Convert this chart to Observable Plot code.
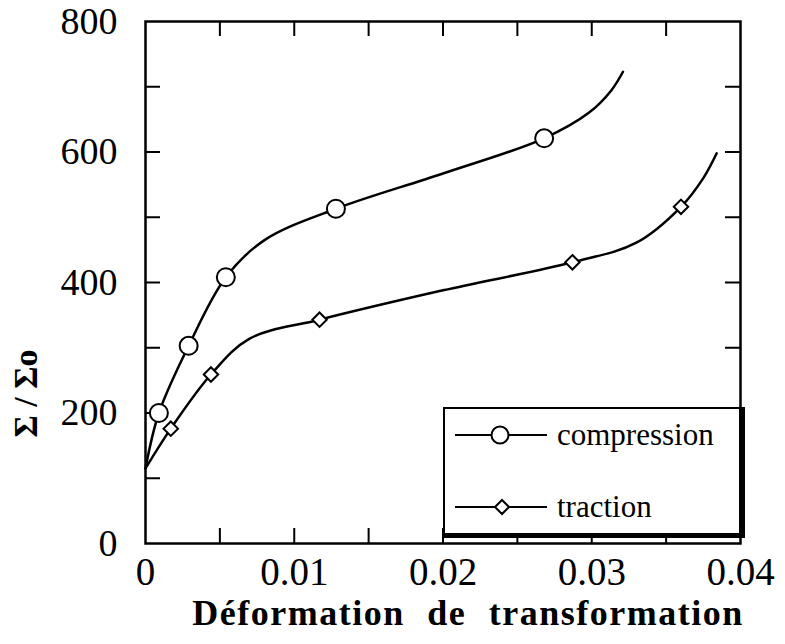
<!DOCTYPE html>
<html>
<head>
<meta charset="utf-8">
<script src="https://cdn.jsdelivr.net/npm/d3@7"></script>
<script src="https://cdn.jsdelivr.net/npm/@observablehq/plot@0.6"></script>
<style>
  body { margin: 0; background: #fff; }
  #wrap { position: relative; width: 785px; height: 644px; font-family: "Liberation Serif", "DejaVu Serif", serif; }
  #legend { position: absolute; left: 443px; top: 407px; width: 302px; height: 131px; background: #fff;
    border-top: 2px solid #000; border-left: 2px solid #000; border-right: 6px solid #000; border-bottom: 5px solid #000; box-sizing: border-box; }
  .row { position: absolute; left: 0; height: 30px; display: flex; align-items: center; white-space: nowrap; }
  .row span { font-size: 31px; margin-left: 10px; }
</style>
</head>
<body>
<div id="wrap"></div>
<script>
// Compression curve (smooth line) and its markers
const compX = [0, 0.0009, 0.0029, 0.0054, 0.008, 0.0128, 0.02, 0.0268, 0.0298, 0.0313, 0.0321];
const compY = [115, 200, 303, 408, 465, 513, 567, 621, 660, 694, 723];
const compMarkX = [0.0009, 0.0029, 0.0054, 0.0128, 0.0268];
const compMarkY = [200, 303, 408, 513, 621];
// Traction curve and its markers
const tracX = [0, 0.0017, 0.0044, 0.007, 0.0117, 0.02, 0.0287, 0.033, 0.036, 0.0375, 0.0384];
const tracY = [115, 176, 259, 314, 343, 388, 431, 461, 516, 560, 598];
const tracMarkX = [0.0017, 0.0044, 0.0117, 0.0287, 0.036];
const tracMarkY = [176, 259, 343, 431, 516];
// Axes
const xTickLabels = [0, 0.01, 0.02, 0.03, 0.04];
const yTickLabels = [0, 200, 400, 600, 800];
const xMinorTicks = [0.005, 0.01, 0.015, 0.02, 0.025, 0.03, 0.035];
const yMinorTicks = [100, 200, 300, 400, 500, 600, 700];
const xTitle = "Déformation de transformation";
const yTitle = "Σ / Σo";
const seriesNames = ["compression", "traction"];

const comp = compX.map((x, i) => ({x, y: compY[i]}));
const trac = tracX.map((x, i) => ({x, y: tracY[i]}));
const compM = compMarkX.map((x, i) => ({x, y: compMarkY[i]}));
const tracM = tracMarkX.map((x, i) => ({x, y: tracMarkY[i]}));

const font = "Liberation Serif";
const chart = Plot.plot({
  width: 785, height: 644,
  marginLeft: 145, marginRight: 45, marginTop: 21, marginBottom: 101,
  style: {fontFamily: font, background: "#fff", color: "#000"},
  x: {domain: [0, 0.04]},
  y: {domain: [0, 800]},
  marks: [
    Plot.frame({stroke: "#000", strokeWidth: 2.5}),
    Plot.tickX(xMinorTicks, {x: d => d, insetTop: 507, strokeWidth: 2}),
    Plot.tickX(xMinorTicks, {x: d => d, insetBottom: 507, strokeWidth: 2}),
    Plot.tickY(yMinorTicks, {y: d => d, insetRight: 580, strokeWidth: 2}),
    Plot.tickY(yMinorTicks, {y: d => d, insetLeft: 580, strokeWidth: 2}),
    Plot.axisX({ticks: xTickLabels, tickSize: 0, tickPadding: 14, fontSize: 39, label: null, tickFormat: d => String(d)}),
    Plot.axisY({ticks: yTickLabels, tickSize: 0, tickPadding: 28, fontSize: 38, label: null, tickFormat: d => String(d)}),
    Plot.line(comp, {x: "x", y: "y", curve: "catmull-rom", stroke: "#000", strokeWidth: 2.5}),
    Plot.line(trac, {x: "x", y: "y", curve: "catmull-rom", stroke: "#000", strokeWidth: 2.5}),
    Plot.dot(compM, {x: "x", y: "y", r: 9, fill: "#fff", stroke: "#000", strokeWidth: 2}),
    Plot.dot(tracM, {x: "x", y: "y", symbol: "diamond2", r: 6.5, fill: "#fff", stroke: "#000", strokeWidth: 2}),
    Plot.text([xTitle], {frameAnchor: "bottom", dx: 25, dy: 70, text: d => d, fontSize: 36, fontWeight: "bold", lineAnchor: "middle", fill: "#000"}),
    Plot.text([yTitle], {frameAnchor: "left", dx: -119, dy: 155, rotate: -90, text: d => d, fontSize: 34, fontWeight: "bold", lineAnchor: "middle", fill: "#000"})
  ]
});
d3.select(chart).selectAll("text")
  .filter(function() { return this.textContent === xTitle; })
  .style("letter-spacing", "1.5px").style("word-spacing", "12px");

const wrap = document.getElementById("wrap");
wrap.appendChild(chart);

// Legend
const legend = document.createElement("div");
legend.id = "legend";
const rows = [
  {name: seriesNames[0], top: 11, sym: `<circle cx="45" cy="15" r="8.5" fill="#fff" stroke="#000" stroke-width="2"/>`},
  {name: seriesNames[1], top: 83, sym: `<path d="M47,8L54,15L47,22L40,15Z" fill="#fff" stroke="#000" stroke-width="2"/>`}
];
rows.forEach(r => {
  const row = document.createElement("div");
  row.className = "row";
  row.style.top = r.top + "px";
  row.innerHTML = `<svg width="92" height="30" style="margin-left:10px"><line x1="0" y1="15" x2="92" y2="15" stroke="#000" stroke-width="2"/>${r.sym}</svg><span>${r.name}</span>`;
  legend.appendChild(row);
});
wrap.appendChild(legend);
</script>
</body>
</html>
